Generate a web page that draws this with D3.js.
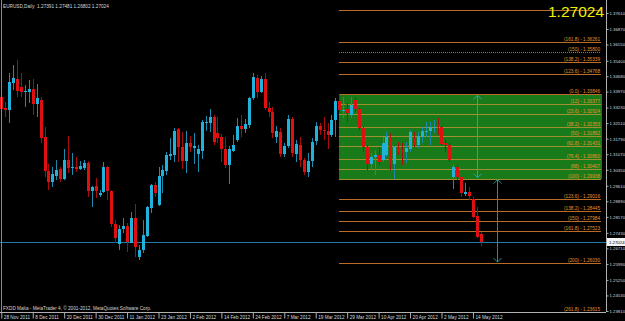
<!DOCTYPE html>
<html>
<head>
<meta charset="utf-8">
<script src="https://cdn.jsdelivr.net/npm/d3@7"></script>
<style>
body { margin: 0; background: #000; }
svg { display: block; }
text { font-family: "Liberation Sans", Arial, sans-serif; }
</style>
</head>
<body>
<div id="chart"></div>
<script>
// EURUSD daily bars, 28 Nov 2011 .. 16 May 2012
const opens = [
  1.3372, 1.3321, 1.3312, 1.3437, 1.3455, 1.3418, 1.3395, 1.3395, 1.3409, 1.3340,
  1.3358, 1.3187, 1.3029, 1.2979, 1.3006, 1.3039, 1.2992, 1.3080, 1.3043, 1.3048,
  1.3039, 1.3043, 1.3067, 1.2937, 1.2960, 1.2918, 1.2932, 1.3048, 1.2937, 1.2784,
  1.2692, 1.2761, 1.2775, 1.2696, 1.2812, 1.2631, 1.2664, 1.2729, 1.2858, 1.2965,
  1.2872, 1.3006, 1.3029, 1.3099, 1.3104, 1.3224, 1.3141, 1.3076, 1.3159, 1.3136,
  1.3108, 1.3122, 1.3256, 1.3252, 1.3279, 1.3205, 1.3187, 1.3131, 1.3057, 1.3122,
  1.3173, 1.3238, 1.3224, 1.3242, 1.3368, 1.3460, 1.3395, 1.3455, 1.3321, 1.3303,
  1.3187, 1.3210, 1.3108, 1.3145, 1.3270, 1.3108, 1.3150, 1.3080, 1.3025, 1.3076,
  1.3168, 1.3238, 1.3219, 1.3215, 1.3196, 1.3266, 1.3354, 1.3307, 1.3317, 1.3289,
  1.3358, 1.3317, 1.3229, 1.3141, 1.3062, 1.3094, 1.3104, 1.3080, 1.3104, 1.3187,
  1.3062, 1.3141, 1.3122, 1.3117, 1.3131, 1.3182, 1.3150, 1.3187, 1.3213, 1.3215,
  1.3231, 1.3242, 1.3233, 1.3159, 1.3150, 1.3002, 1.3048, 1.3002, 1.2923, 1.2932,
  1.2900, 1.2821, 1.27391
];
const highs = [
  1.3395, 1.3349, 1.3483, 1.3520, 1.3543, 1.3483, 1.3428, 1.3451, 1.3455, 1.3432,
  1.3372, 1.3233, 1.3062, 1.3048, 1.3080, 1.3048, 1.3131, 1.3192, 1.3113, 1.3094,
  1.3076, 1.3080, 1.3076, 1.2960, 1.2997, 1.2941, 1.3071, 1.3053, 1.2941, 1.2803,
  1.2779, 1.2812, 1.2789, 1.2840, 1.2877, 1.2687, 1.2803, 1.2867, 1.2969, 1.2979,
  1.3048, 1.3057, 1.3117, 1.3182, 1.3229, 1.3229, 1.3210, 1.3215, 1.3192, 1.3205,
  1.3150, 1.3266, 1.3284, 1.3317, 1.3289, 1.3279, 1.3201, 1.3187, 1.3145, 1.3196,
  1.3275, 1.3289, 1.3270, 1.3372, 1.3483, 1.3474, 1.3469, 1.3483, 1.3349, 1.3326,
  1.3238, 1.3229, 1.3159, 1.3289, 1.3279, 1.3173, 1.3187, 1.3090, 1.3113, 1.3182,
  1.3256, 1.3252, 1.3279, 1.3252, 1.3289, 1.3368, 1.3381, 1.3372, 1.3344, 1.3372,
  1.3372, 1.3321, 1.3233, 1.3150, 1.3113, 1.3127, 1.3141, 1.3187, 1.3210, 1.3205,
  1.3145, 1.3164, 1.3159, 1.3164, 1.3219, 1.3210, 1.3210, 1.3233, 1.3256, 1.3256,
  1.3266, 1.3275, 1.3238, 1.3173, 1.3159, 1.3062, 1.3057, 1.3002, 1.2974, 1.2955,
  1.2909, 1.2863, 1.27481
];
const lows = [
  1.3266, 1.3279, 1.3252, 1.3405, 1.3372, 1.3372, 1.3326, 1.3344, 1.3289, 1.3279,
  1.3159, 1.3002, 1.2941, 1.2955, 1.2988, 1.2979, 1.2988, 1.3020, 1.3011, 1.3025,
  1.3034, 1.3034, 1.2909, 1.2863, 1.2904, 1.2909, 1.2928, 1.2895, 1.2770, 1.2696,
  1.2664, 1.2742, 1.2654, 1.2696, 1.2631, 1.2617, 1.2650, 1.2724, 1.2835, 1.2909,
  1.2867, 1.2928, 1.3011, 1.3080, 1.3071, 1.3071, 1.3039, 1.3020, 1.3117, 1.3062,
  1.3025, 1.3085, 1.3215, 1.3210, 1.3150, 1.3159, 1.3071, 1.3043, 1.2969, 1.3117,
  1.3164, 1.3187, 1.3205, 1.3229, 1.3358, 1.3368, 1.3391, 1.3312, 1.3279, 1.3182,
  1.3159, 1.3094, 1.3094, 1.3136, 1.3094, 1.3071, 1.3048, 1.3011, 1.3002, 1.3048,
  1.3150, 1.3196, 1.3173, 1.3131, 1.3187, 1.3187, 1.3298, 1.3275, 1.3256, 1.3275,
  1.3303, 1.3219, 1.3117, 1.3034, 1.3034, 1.3011, 1.3057, 1.3071, 1.3094, 1.3034,
  1.2992, 1.3104, 1.3057, 1.3067, 1.3117, 1.3141, 1.3136, 1.3159, 1.3187, 1.3150,
  1.3205, 1.3196, 1.3150, 1.3117, 1.3071, 1.2946, 1.2988, 1.2909, 1.2914, 1.2895,
  1.2812, 1.2719, 1.26802
];
const closes = [
  1.3317, 1.3312, 1.3442, 1.3460, 1.3400, 1.3395, 1.3400, 1.3409, 1.3340, 1.3368,
  1.3182, 1.3029, 1.2979, 1.3016, 1.3034, 1.2992, 1.3080, 1.3043, 1.3048, 1.3039,
  1.3053, 1.3067, 1.2937, 1.2955, 1.2937, 1.2928, 1.3048, 1.2937, 1.2784, 1.2719,
  1.2761, 1.2775, 1.2701, 1.2812, 1.2678, 1.2664, 1.2733, 1.2863, 1.2965, 1.2928,
  1.3006, 1.3034, 1.3104, 1.3108, 1.3215, 1.3141, 1.3076, 1.3159, 1.3141, 1.3145,
  1.3131, 1.3256, 1.3258, 1.3279, 1.3164, 1.3182, 1.3131, 1.3057, 1.3131, 1.3150,
  1.3238, 1.3224, 1.3247, 1.3368, 1.3465, 1.3395, 1.3455, 1.3321, 1.3303, 1.3205,
  1.3215, 1.3108, 1.3145, 1.3270, 1.3113, 1.3154, 1.3080, 1.3025, 1.3076, 1.3164,
  1.3238, 1.3219, 1.3215, 1.3196, 1.3266, 1.3354, 1.3312, 1.3310, 1.3298, 1.3335,
  1.3317, 1.3229, 1.3141, 1.3062, 1.3094, 1.3104, 1.3071, 1.3159, 1.3187, 1.3067,
  1.3141, 1.3117, 1.3117, 1.3136, 1.3210, 1.3150, 1.3192, 1.3215, 1.3215, 1.3233,
  1.3233, 1.3233, 1.3154, 1.3150, 1.3080, 1.3048, 1.3002, 1.2928, 1.2932, 1.2914,
  1.2816, 1.2724, 1.27024
];

// time axis labels (every 8th bar)
const dateTicks = [0, 8, 16, 24, 32, 40, 48, 56, 64, 72, 80, 88, 96, 104, 112, 120];
const dateLabels = ['28 Nov 2011', '8 Dec 2011', '20 Dec 2011', '30 Dec 2011', '11 Jan 2012',
  '23 Jan 2012', '2 Feb 2012', '14 Feb 2012', '24 Feb 2012', '7 Mar 2012', '19 Mar 2012',
  '29 Mar 2012', '10 Apr 2012', '20 Apr 2012', '2 May 2012', '14 May 2012'];

// price axis labels
const priceTicks = [1.37610, 1.36870, 1.36150, 1.35400, 1.34680, 1.33970, 1.33230, 1.32510,
  1.31790, 1.31070, 1.30350, 1.29610, 1.28890, 1.28170, 1.27430, 1.26710, 1.25990,
  1.25250, 1.24530, 1.23810];

// fibonacci levels drawn on the chart
const fibNames = ['200', '161.8', '150', '138.2', '123.6', '0.0', '12', '23.6', '38.2', '50',
  '61.8', '76.4', '88', '100', '123.6', '138.2', '150', '161.8', '200', '261.8'];
const fibPrices = [1.37754, 1.36261, 1.35800, 1.35339, 1.34768, 1.33846, 1.33377, 1.32924,
  1.32353, 1.31892, 1.31431, 1.30860, 1.30407, 1.29938, 1.29016, 1.28445, 1.27984,
  1.27523, 1.26030, 1.23615];
const fibStart = 86, fibEnd = 100;      // anchor bars of the fibo
const arrowBars = [121, 126];

const title = 'EURUSD,Daily  1.27391 1.27481 1.26802 1.27024';
const footer = 'FXDD Malta - MetaTrader 4, \u00a9 2001-2012, MetaQuotes Software Corp.';

const W = 625, H = 321;
const plot = { left: 0, right: 606, top: 0, bottom: 312 };
const small = '4.7px';
const axisFont = '4.3px';

const svg = d3.select('#chart').append('svg')
  .attr('width', W).attr('height', H)
  .style('background', '#000');

svg.append('defs').append('clipPath').attr('id', 'clip')
  .append('rect')
  .attr('x', plot.left).attr('y', plot.top)
  .attr('width', plot.right - plot.left).attr('height', plot.bottom - plot.top);

const x = d3.scaleLinear().domain([0, closes.length - 1]).range([1.3, 480.8]);
const y = d3.scaleLinear().domain([1.23810, 1.37610]).range([311, 13]);

const g = svg.append('g').attr('clip-path', 'url(#clip)');

// green zone between 0 and 100
const p0 = fibPrices[fibNames.indexOf('0.0')];
const p100 = fibPrices[fibNames.indexOf('100')];
const p200 = fibPrices[18];
g.append('rect')
  .attr('x', Math.round(x(fibStart)))
  .attr('y', Math.round(y(p0)))
  .attr('width', plot.right - 4 - Math.round(x(fibStart)))
  .attr('height', Math.round(y(p100)) - Math.round(y(p0)))
  .attr('fill', '#187a18');

// fibo level lines
fibPrices.forEach((p, i) => {
  const inside = p <= p0 && p >= p100;
  const yy = Math.round(y(p)) + 0.5;
  g.append('line')
    .attr('x1', Math.round(x(fibStart))).attr('x2', plot.right - 5)
    .attr('y1', yy).attr('y2', yy)
    .attr('stroke', inside && i !== 5 ? '#a09030' : '#b86c28')
    .attr('stroke-width', 1)
    .attr('stroke-dasharray', i === 2 ? '1,1' : null);
});

// fibo trend line (dotted)
g.append('line')
  .attr('x1', x(fibStart)).attr('y1', y(p0))
  .attr('x2', x(fibEnd)).attr('y2', y(p100))
  .attr('stroke', '#4a5a20').attr('stroke-width', 1)
  .attr('stroke-dasharray', '1,2');

// current price line
const last = closes[closes.length - 1];
g.append('line')
  .attr('x1', plot.left).attr('x2', plot.right)
  .attr('y1', Math.round(y(last)) + 0.5).attr('y2', Math.round(y(last)) + 0.5)
  .attr('stroke', '#1f7ca6').attr('stroke-width', 1);

// candles
const bars = g.selectAll('g.bar')
  .data(d3.range(closes.length))
  .join('g')
  .attr('class', 'bar')
  .attr('shape-rendering', 'crispEdges');

bars.append('line')
  .attr('x1', i => Math.round(x(i)) + 0.5)
  .attr('x2', i => Math.round(x(i)) + 0.5)
  .attr('y1', i => y(highs[i]))
  .attr('y2', i => y(lows[i]))
  .attr('stroke', i => closes[i] >= opens[i] ? '#1a8aae' : '#a80c0c');

bars.append('rect')
  .attr('x', i => Math.round(x(i)) - 1)
  .attr('width', 3)
  .attr('y', i => y(Math.max(opens[i], closes[i])))
  .attr('height', i => Math.max(1, Math.abs(y(opens[i]) - y(closes[i]))))
  .attr('fill', i => closes[i] >= opens[i] ? '#20b2da' : '#e01010');

// fibo labels
fibPrices.forEach((p, i) => {
  if (i === 0) return; // hidden behind the price display
  svg.append('text')
    .attr('x', plot.right - 6)
    .attr('y', Math.min(Math.round(y(p)) - 1, plot.bottom - 1))
    .attr('text-anchor', 'end')
    .attr('font-size', small)
    .attr('fill', '#e8922e')
    .text('(' + fibNames[i] + ') - ' + p.toFixed(5));
});

// double arrows
const arrowColors = ['#2aa6ae', '#1e9494'];
[[p0, p100], [p100, p200]].forEach((seg, k) => {
  const ax = Math.round(x(arrowBars[k])) + 0.5;
  const y1 = y(seg[0]) + 1, y2 = y(seg[1]) - 1;
  const a = svg.append('g').attr('stroke', arrowColors[k]).attr('fill', 'none').attr('stroke-width', 1);
  a.append('line').attr('x1', ax).attr('x2', ax).attr('y1', y1).attr('y2', y2);
  a.append('polyline').attr('points', [[ax - 4, y1 + 4], [ax, y1], [ax + 4, y1 + 4]].join(' '));
  a.append('polyline').attr('points', [[ax - 4, y2 - 4], [ax, y2], [ax + 4, y2 - 4]].join(' '));
});

// frame
svg.append('line')
  .attr('x1', 1.5).attr('x2', 1.5).attr('y1', plot.top).attr('y2', plot.bottom)
  .attr('stroke', '#8a8a8a');

// price axis
const yAxis = svg.append('g')
  .attr('transform', 'translate(' + (plot.right + 0.5) + ',0)')
  .call(d3.axisRight(y).tickValues(priceTicks).tickFormat(d3.format('.5f'))
    .tickSize(2).tickSizeOuter(0).tickPadding(1));
yAxis.select('.domain').attr('stroke', '#b0b0b0').attr('d', 'M0,' + plot.top + 'V' + plot.bottom);
yAxis.selectAll('.tick line').attr('stroke', '#b0b0b0');
yAxis.selectAll('.tick text')
  .attr('fill', '#d8d8d8').attr('font-size', axisFont)
  .style('font-family', '"Liberation Sans", Arial, sans-serif');

// time axis
const xAxis = svg.append('g')
  .attr('transform', 'translate(0,' + (plot.bottom + 0.5) + ')')
  .call(d3.axisBottom(x).tickValues(dateTicks).tickFormat((d, i) => dateLabels[i])
    .tickSize(6).tickSizeOuter(0));
xAxis.select('.domain').attr('stroke', '#b0b0b0').attr('d', 'M' + plot.left + ',0H' + plot.right);
xAxis.selectAll('.tick line').attr('stroke', '#b0b0b0');
xAxis.selectAll('.tick text')
  .attr('fill', '#d8d8d8').attr('font-size', small)
  .attr('text-anchor', 'start').attr('x', 2).attr('y', 6).attr('dy', 0)
  .style('font-family', '"Liberation Sans", Arial, sans-serif');

// current price marker on the axis
const yl = Math.round(y(last));
svg.append('rect')
  .attr('x', plot.right + 1).attr('y', yl - 4)
  .attr('width', W - plot.right).attr('height', 8)
  .attr('fill', '#f4f4f4');
svg.append('text')
  .attr('x', plot.right + 3).attr('y', yl + 2)
  .attr('font-size', axisFont).attr('fill', '#000')
  .text(last.toFixed(5));

// header, footer, big price
svg.append('text')
  .attr('x', 3).attr('y', 8)
  .attr('font-size', small).attr('fill', '#d8d8d8')
  .attr('xml:space', 'preserve')
  .style('white-space', 'pre')
  .text(title);

svg.append('text')
  .attr('x', 3).attr('y', 310)
  .attr('font-size', small).attr('fill', '#d8d8d8')
  .text(footer);

svg.append('text')
  .attr('x', 604).attr('y', 17)
  .attr('text-anchor', 'end')
  .attr('font-size', '15.5px')
  .attr('fill', '#f0f000')
  .text(last.toFixed(5));
</script>
</body>
</html>
